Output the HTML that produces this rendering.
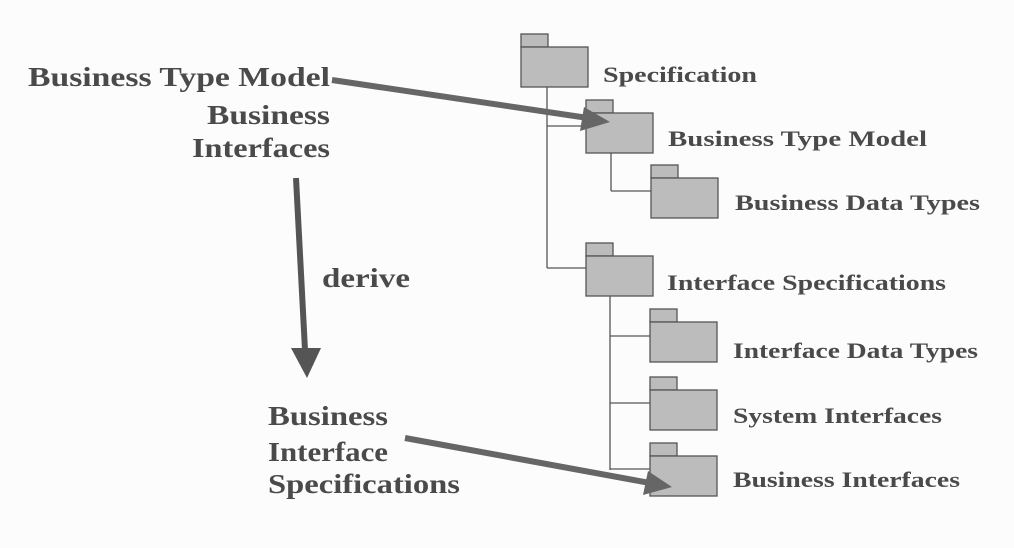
<!DOCTYPE html>
<html><head><meta charset="utf-8"><style>
html,body{margin:0;padding:0;background:#fcfcfc;}
svg{display:block}
text{font-family:"Liberation Serif",serif;font-weight:bold;fill:#4a4a4a;}
</style></head><body>
<svg width="1014" height="548" viewBox="0 0 1014 548" xmlns="http://www.w3.org/2000/svg">
<defs>
<g id="f">
<rect x="0" y="0" width="27" height="13" fill="#bcbcbc" stroke="#555" stroke-width="1.3"/>
<rect x="0" y="13" width="67" height="40" fill="#bcbcbc" stroke="#555" stroke-width="1.3"/>
</g>
</defs>
<g stroke="#555" stroke-width="1.3" fill="none">
<line x1="547" y1="87" x2="547" y2="268"/>
<line x1="547" y1="126" x2="586" y2="126"/>
<line x1="547" y1="268" x2="586" y2="268"/>
<line x1="611" y1="153" x2="611" y2="191"/>
<line x1="611" y1="191" x2="651" y2="191"/>
<line x1="610" y1="296" x2="610" y2="470"/>
<line x1="610" y1="336" x2="650" y2="336"/>
<line x1="610" y1="403" x2="650" y2="403"/>
<line x1="610" y1="469" x2="650" y2="469"/>
</g>
<use href="#f" x="521" y="34"/>
<use href="#f" x="586" y="100"/>
<use href="#f" x="651" y="165"/>
<use href="#f" x="586" y="243"/>
<use href="#f" x="650" y="309"/>
<use href="#f" x="650" y="377"/>
<use href="#f" x="650" y="443"/>
<line x1="332" y1="80" x2="588" y2="118" stroke="#666" stroke-width="6"/>
<polygon points="610,122 584,107 580,131" fill="#666"/>
<line x1="405" y1="438" x2="650" y2="483" stroke="#666" stroke-width="6"/>
<polygon points="672,487 648,471 643,495" fill="#666"/>
<line x1="296" y1="178" x2="305" y2="350" stroke="#555" stroke-width="6"/>
<polygon points="291,348 321,348 307,378" fill="#555"/>
<text x="28" y="86" font-size="27" textLength="302" lengthAdjust="spacingAndGlyphs">Business Type Model</text>
<text x="207" y="124" font-size="27" textLength="123" lengthAdjust="spacingAndGlyphs">Business</text>
<text x="192" y="157" font-size="27" textLength="138" lengthAdjust="spacingAndGlyphs">Interfaces</text>
<text x="322" y="287" font-size="27" textLength="88" lengthAdjust="spacingAndGlyphs">derive</text>
<text x="268" y="425" font-size="27" textLength="120" lengthAdjust="spacingAndGlyphs">Business</text>
<text x="268" y="461" font-size="27" textLength="120" lengthAdjust="spacingAndGlyphs">Interface</text>
<text x="268" y="493" font-size="27" textLength="192" lengthAdjust="spacingAndGlyphs">Specifications</text>
<text x="603" y="82" font-size="22" textLength="154" lengthAdjust="spacingAndGlyphs">Specification</text>
<text x="668" y="146" font-size="22" textLength="259" lengthAdjust="spacingAndGlyphs">Business Type Model</text>
<text x="735" y="210" font-size="22" textLength="245" lengthAdjust="spacingAndGlyphs">Business Data Types</text>
<text x="667" y="290" font-size="22" textLength="279" lengthAdjust="spacingAndGlyphs">Interface Specifications</text>
<text x="733" y="358" font-size="22" textLength="245" lengthAdjust="spacingAndGlyphs">Interface Data Types</text>
<text x="733" y="423" font-size="22" textLength="209" lengthAdjust="spacingAndGlyphs">System Interfaces</text>
<text x="733" y="487" font-size="22" textLength="227" lengthAdjust="spacingAndGlyphs">Business Interfaces</text>
</svg>
</body></html>
